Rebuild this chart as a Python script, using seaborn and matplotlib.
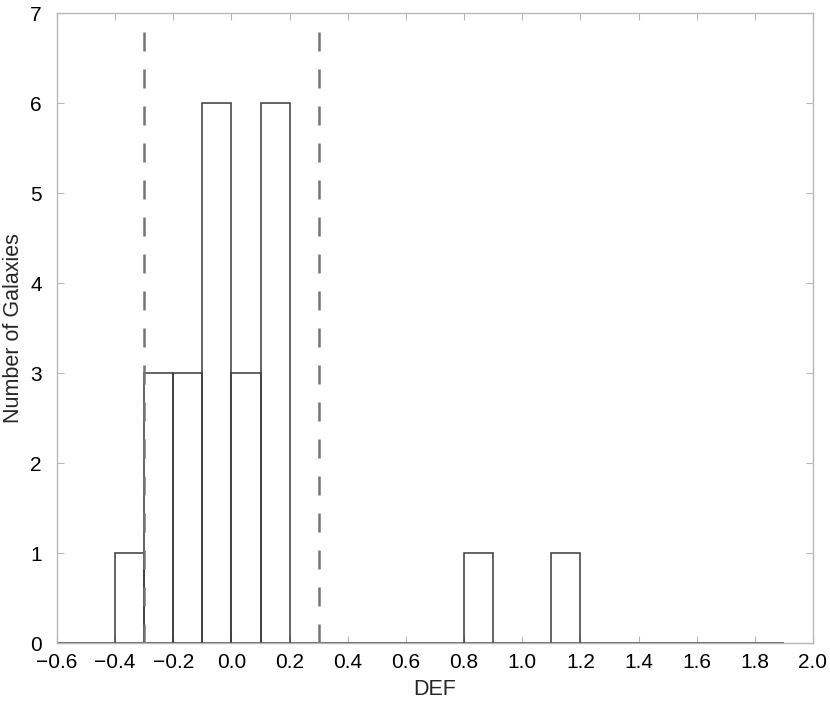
import numpy as np
import pandas as pd
import matplotlib
matplotlib.use("Agg")
import matplotlib.pyplot as plt
import seaborn as sns

# Histogram data (bin left edges and counts, bin width 0.1)
bin_lefts = [-0.6, -0.5, -0.4, -0.3, -0.2, -0.1, 0.0, 0.1, 0.2, 0.3, 0.4, 0.5,
             0.6, 0.7, 0.8, 0.9, 1.0, 1.1, 1.2, 1.3, 1.4, 1.5, 1.6, 1.7, 1.8]
counts = [0, 0, 1, 3, 3, 6, 3, 6, 0, 0, 0, 0,
          0, 0, 1, 0, 0, 1, 0, 0, 0, 0, 0, 0, 0]
bin_width = 0.1
dashed_limits = [-0.3, 0.3]
x_ticks = [-0.6, -0.4, -0.2, 0.0, 0.2, 0.4, 0.6, 0.8, 1.0, 1.2, 1.4, 1.6, 1.8, 2.0]
y_ticks = [0, 1, 2, 3, 4, 5, 6, 7]

sns.set_style("white")
plt.rcParams['font.family'] = ['Liberation Sans', 'DejaVu Sans']

fig = plt.figure(figsize=(8.3, 7.11), dpi=100)
ax = fig.add_axes([0.0687, 0.0956, 0.9108, 0.8861])

lefts = np.array(bin_lefts)
df = pd.DataFrame({"DEF": lefts + bin_width / 2, "n": counts})
edges = [float(e) for e in np.append(lefts, lefts[-1] + bin_width)]
sns.histplot(data=df, x="DEF", weights="n", bins=edges, fill=False, element="bars",
             color="#3a3a3a", linewidth=1.1, ax=ax)

for xv in dashed_limits:
    ax.plot([xv, xv], [0, 6.9], linestyle=(0, (7.6, 7.2)), color="#747474",
            linewidth=1.8, dash_capstyle="butt")

ax.set_xlim(-0.6, 2.0)
ax.set_ylim(0, 7)
ax.set_xticks(x_ticks)
ax.set_xticklabels([f"{t:.1f}".replace("-", "\u2212") for t in x_ticks])
ax.set_yticks(y_ticks)
ax.tick_params(direction="in", length=5, width=0.8, color="#b8b8b8",
               top=True, right=True, bottom=True, left=True, labelsize=15,
               labelcolor="black")
ax.tick_params(axis="x", pad=7)
ax.tick_params(axis="y", pad=11)
for s in ax.spines.values():
    s.set_color("#b8b8b8")
    s.set_linewidth(1.0)
ax.set_xlabel("DEF", fontsize=15.5, labelpad=5)
ax.set_ylabel("Number of Galaxies", fontsize=15.5, labelpad=4)

fig.savefig("out.png", dpi=100)
